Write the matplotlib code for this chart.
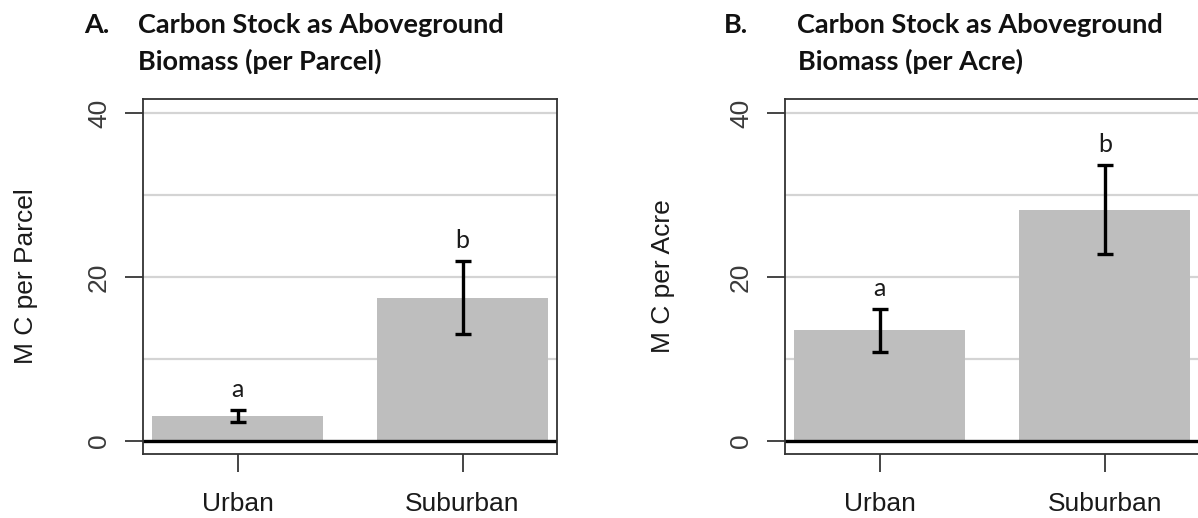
import matplotlib
matplotlib.use("Agg")
import matplotlib.pyplot as plt

# Mean aboveground carbon stock with error bars and significance letters
sites = ["Urban", "Suburban"]

parcel_mean = [3.05, 17.5]
parcel_err = [0.75, 4.45]
parcel_letters = ["a", "b"]

acre_mean = [13.5, 28.2]
acre_err = [2.6, 5.45]
acre_letters = ["a", "b"]

y_ticks = [0, 20, 40]
grid_levels = [10, 20, 30, 40]

W, H = 1198, 518
DPI = 100
fig = plt.figure(figsize=(W / DPI, H / DPI), dpi=DPI)

AXIS_FONT = "Liberation Sans"
TITLE_FONT = "Lato"
BAR_COLOR = "#bebebe"
GRID_COLOR = "#d4d4d4"
SPINE_COLOR = "#333333"
TEXT_COLOR = "#1a1a1a"
AXIS_SIZE = 19


def px_axes(left, right, top, bottom):
    return fig.add_axes([left / W, 1 - bottom / H, (right - left) / W, (bottom - top) / H])


def panel(ax, means, errs, letters, ylabel, label_x):
    x = list(range(len(sites)))
    ax.set_xlim(-0.42, 1.42)
    ax.set_ylim(-1.585, 41.71)
    for g in grid_levels:
        ax.axhline(g, color=GRID_COLOR, lw=1.6, zorder=0)
    ax.bar(x, means, width=0.76, color=BAR_COLOR, edgecolor="none", zorder=1)
    ax.axhline(0, color="black", lw=2.4, zorder=2)
    ax.errorbar(x, means, yerr=errs, fmt="none", ecolor="black", elinewidth=2.4,
                capsize=5.5, capthick=2.4, zorder=3)
    for xi, m, e, lab in zip(x, means, errs, letters):
        ax.annotate(lab, xy=(xi, m + e), xytext=(0, 6.5), textcoords="offset points",
                    ha="center", va="bottom", fontsize=18, family=TITLE_FONT,
                    color=TEXT_COLOR, zorder=4)
    for s in ax.spines.values():
        s.set_color(SPINE_COLOR)
        s.set_linewidth(1.3)
    ax.set_yticks(y_ticks)
    ax.set_yticklabels([str(t) for t in y_ticks], rotation=90, va="center",
                       family=AXIS_FONT, fontsize=AXIS_SIZE, color="#3a3a3a")
    ax.set_xticks(x)
    ax.set_xticklabels(sites, family=AXIS_FONT, fontsize=AXIS_SIZE, color=TEXT_COLOR)
    ax.tick_params(axis="both", length=13, width=1.4, color="#444444")
    ax.tick_params(axis="y", pad=10)
    ax.tick_params(axis="x", pad=14.5)
    ax.set_ylabel(ylabel, family=AXIS_FONT, fontsize=AXIS_SIZE, color=TEXT_COLOR)
    ax.yaxis.set_label_coords(label_x, 0.5)


ax_a = px_axes(143, 557, 99, 454)
panel(ax_a, parcel_mean, parcel_err, parcel_letters, "M C per Parcel", -0.2536)

ax_b = px_axes(785, 1199.5, 99, 454)
panel(ax_b, acre_mean, acre_err, acre_letters, "M C per Acre", -0.2654)

# Panel headings
title_kw = dict(family=TITLE_FONT, fontweight="bold", fontsize=19.5, color="#111111",
                va="center", ha="left")
fig.text(84 / W, 1 - 25 / H, "A.", **title_kw)
fig.text(138 / W, 1 - 25 / H, "Carbon Stock as Aboveground", **title_kw)
fig.text(138 / W, 1 - 61 / H, "Biomass (per Parcel)", **title_kw)

fig.text(724 / W, 1 - 25 / H, "B.", **title_kw)
fig.text(797 / W, 1 - 25 / H, "Carbon Stock as Aboveground", **title_kw)
fig.text(798 / W, 1 - 61 / H, "Biomass (per Acre)", **title_kw)

fig.savefig("out.png", dpi=DPI, facecolor="white")
